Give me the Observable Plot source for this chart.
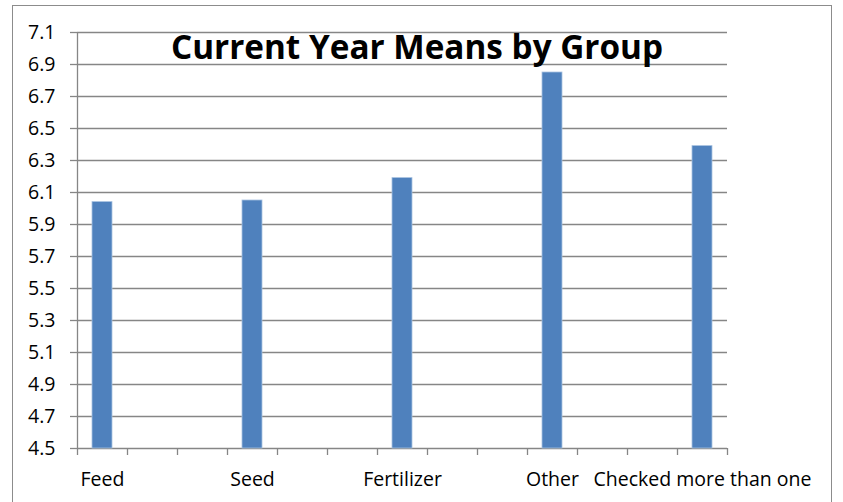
<!DOCTYPE html>
<html>
<head>
<meta charset="utf-8">
<script src="https://cdn.jsdelivr.net/npm/d3@7"></script>
<script src="https://cdn.jsdelivr.net/npm/@observablehq/plot@0.6"></script>
<style>
  html, body { margin: 0; padding: 0; background: #fff; overflow: hidden; }
  #wrap { position: relative; width: 843px; height: 502px; overflow: hidden; }
  #border { position: absolute; left: 12px; top: 5px; width: 820px; height: 540px; border: 1px solid #8c8c8c; box-sizing: border-box; }
  #chart { position: absolute; left: 0; top: 0; }
  #title { position: absolute; left: 0; top: 30px; width: 834px; text-align: center;
           font-family: "Open Sans", sans-serif; font-weight: bold; font-size: 33.3px; line-height: 33.3px; color: #000; }
</style>
</head>
<body>
<div id="wrap">
  <div id="border"></div>
  <div id="chart"></div>
  <div id="title">Current Year Means by Group</div>
</div>
<script>
// Category slots on the Excel axis (blank slots between labelled groups)
const categories = ["Feed", "", "", "Seed", "", "", "Fertilizer", "", "", "Other", "", "", "Checked more than one"];
const values     = [6.04, null, null, 6.05, null, null, 6.19, null, null, 6.85, null, null, 6.39];
const yTicks     = [4.5, 4.7, 4.9, 5.1, 5.3, 5.5, 5.7, 5.9, 6.1, 6.3, 6.5, 6.7, 6.9, 7.1];
const yMin = 4.5, yMax = 7.1;

const slots = categories.map((c, i) => ({i, category: c, value: values[i]}));
const bars = slots.filter(d => d.value != null);
const labelled = slots.filter(d => d.category !== "");
const boundaries = d3.range(categories.length + 1);

const gray = "#868686";

const chart = Plot.plot({
  width: 843,
  height: 502,
  marginLeft: 77,
  marginRight: 116,
  marginTop: 32,
  marginBottom: 54,
  style: {fontFamily: "Open Sans, sans-serif", fontSize: "19.5px", background: "transparent", color: "#000"},
  x: {type: "linear", domain: [0, categories.length]},
  y: {type: "linear", domain: [yMin, yMax]},
  marks: [
    Plot.ruleY(yTicks, {stroke: gray, strokeWidth: 1.3}),
    Plot.rectY(bars, {
      x1: d => d.i + 0.3, x2: d => d.i + 0.7,
      y1: yMin, y2: "value",
      fill: "#4f81bd", stroke: "#a9c2e0", strokeWidth: 0.8
    }),
    Plot.ruleX([0], {y1: yMin, y2: yMax, stroke: gray, strokeWidth: 1.3}),
    Plot.axisY({ticks: yTicks, tickSize: 7, tickPadding: 15, tickFormat: d3.format(".1f"),
                stroke: gray, strokeWidth: 1.3, fill: "#000", label: null}),
    Plot.axisX({ticks: boundaries, tickSize: 7, tickFormat: () => "", stroke: gray, strokeWidth: 1.3, label: null}),
    Plot.text(labelled, {x: d => d.i + 0.5, y: yMin, text: "category", dy: 31, fill: "#000"})
  ]
});
document.getElementById("chart").appendChild(chart);
</script>
</body>
</html>
